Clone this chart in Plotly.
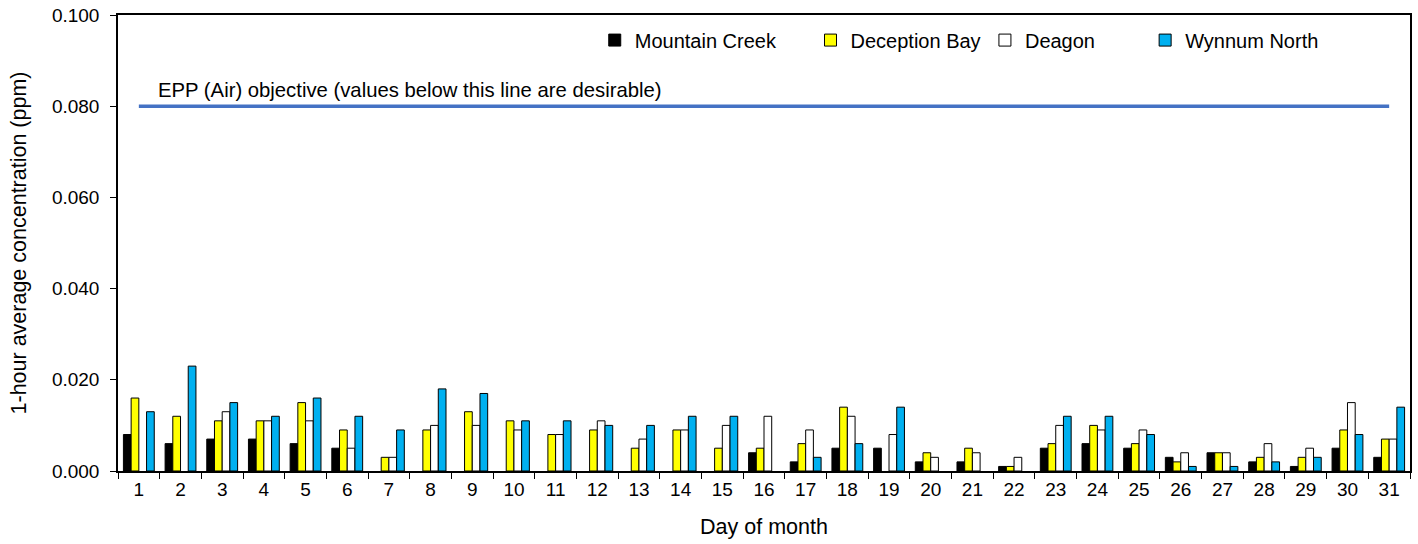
import plotly.graph_objects as go

days = [str(d) for d in range(1, 32)]
mountain_creek = [0.008, 0.006, 0.007, 0.007, 0.006, 0.005, None, None, None, None,
                  None, None, None, None, None, 0.004, 0.002, 0.005, 0.005, 0.002,
                  0.002, 0.001, 0.005, 0.006, 0.005, 0.003, 0.004, 0.002, 0.001, 0.005, 0.003]
deception_bay = [0.016, 0.012, 0.011, 0.011, 0.015, 0.009, 0.003, 0.009, 0.013, 0.011,
                 0.008, 0.009, 0.005, 0.009, 0.005, 0.005, 0.006, 0.014, None, 0.004,
                 0.005, 0.001, 0.006, 0.010, 0.006, 0.002, 0.004, 0.003, 0.003, 0.009, 0.007]
deagon = [None, None, 0.013, 0.011, 0.011, 0.005, 0.003, 0.010, 0.010, 0.009,
          0.008, 0.011, 0.007, 0.009, 0.010, 0.012, 0.009, 0.012, 0.008, 0.003,
          0.004, 0.003, 0.010, 0.009, 0.009, 0.004, 0.004, 0.006, 0.005, 0.015, 0.007]
wynnum_north = [0.013, 0.023, 0.015, 0.012, 0.016, 0.012, 0.009, 0.018, 0.017, 0.011,
                0.011, 0.010, 0.010, 0.012, 0.012, None, 0.003, 0.006, 0.014, None,
                None, None, 0.012, 0.012, 0.008, 0.001, 0.001, 0.002, 0.003, 0.008, 0.014]
objective = 0.080
objective_label = "EPP (Air) objective (values below this line are desirable)"

FONT = "Liberation Sans, Arial, sans-serif"

series = [
    ("Mountain Creek", mountain_creek, "#000000", "legend", 0.369),
    ("Deception Bay", deception_bay, "#FFFF00", "legend2", 0.536),
    ("Deagon", deagon, "#FFFFFF", "legend3", 0.671),
    ("Wynnum North", wynnum_north, "#00B0F0", "legend4", 0.795),
]

fig = go.Figure()
for name, vals, color, leg, _ in series:
    fig.add_trace(go.Bar(
        x=days, y=vals, name=name, legend=leg,
        marker=dict(color=color, line=dict(color="#000000", width=1)),
    ))

fig.add_trace(go.Scatter(
    x=[days[0], days[-1]], y=[objective, objective], mode="lines",
    line=dict(color="#4472C4", width=3.5), showlegend=False, hoverinfo="skip",
))

fig.add_annotation(
    x=0.0295, xref="paper", y=objective, yref="y", yshift=16,
    xanchor="left", yanchor="middle", showarrow=False,
    text=objective_label, font=dict(size=20.3, color="#000000", family=FONT),
)

legend_common = dict(orientation="h", yanchor="middle", y=0.945, xanchor="left",
                     font=dict(size=20, color="#000000", family=FONT),
                     bgcolor="rgba(0,0,0,0)", itemwidth=30)
layout_legends = {}
for name, vals, color, leg, lx in series:
    layout_legends[leg] = dict(legend_common, x=lx)

fig.update_layout(
    width=1418, height=544,
    margin=dict(l=118, r=8, t=15, b=73, autoexpand=False),
    paper_bgcolor="white", plot_bgcolor="white",
    barmode="group", bargap=0.26, bargroupgap=0,
    font=dict(family=FONT, size=19, color="#000000"),
    showlegend=True,
    **layout_legends,
)
fig.update_xaxes(
    type="category", tickson="boundaries", ticks="outside", ticklen=6,
    tickcolor="#000000", showline=True, linecolor="#000000", linewidth=1.5, mirror=True,
    showgrid=False, tickfont=dict(size=19), automargin=False,
    title=dict(text="Day of month", font=dict(size=21.5), standoff=20),
)
fig.update_yaxes(
    range=[0, 0.1], dtick=0.02, tickformat=".3f", ticks="outside", ticklen=6,
    tickcolor="#000000", showline=True, linecolor="#000000", linewidth=1.5, mirror=True,
    showgrid=False, zeroline=False, tickfont=dict(size=19), ticklabeloverflow="allow",
    ticklabelstandoff=7, automargin=False,
    title=dict(text="1-hour average concentration (ppm)", font=dict(size=21.5), standoff=19),
)

fig.write_html(
    "out.html",
    config={"displayModeBar": False},
    post_script="document.body.style.margin='0';document.body.style.overflow='hidden';",
)
